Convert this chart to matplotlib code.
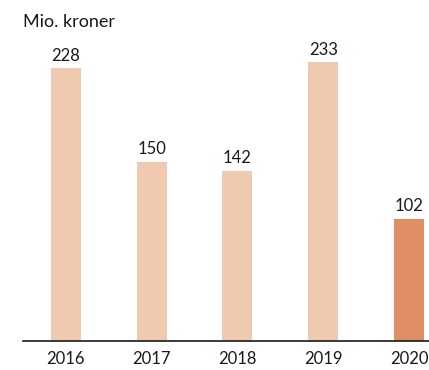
import matplotlib.pyplot as plt

years = ['2016', '2017', '2018', '2019', '2020']
values = [228, 150, 142, 233, 102]
colors = ['#EFC9B0', '#EFC9B0', '#EFC9B0', '#EFC9B0', '#E08E66']

plt.rcParams['font.family'] = ['Lato', 'DejaVu Sans']

fig = plt.figure(figsize=(4.29, 3.70), dpi=100)
ax = fig.add_axes([23 / 429, 29 / 370, 406 / 429, 299 / 370])

x = range(len(years))
bars = ax.bar(x, values, width=0.35, color=colors)
for b, v in zip(bars, values):
    ax.text(b.get_x() + b.get_width() / 2, v + 4, str(v),
            ha='center', va='bottom', fontsize=12, color='#1a1a1a')

ax.set_xlim(-0.5, 4.233)
ax.set_ylim(0, 250)
ax.set_xticks(list(x))
ax.set_xticklabels(years, fontsize=12, color='#1a1a1a')
ax.tick_params(axis='x', length=0, pad=7)
ax.set_yticks([])
for s in ['top', 'right', 'left']:
    ax.spines[s].set_visible(False)
ax.spines['bottom'].set_color('#1a1a1a')
ax.spines['bottom'].set_linewidth(1.2)

fig.text(23 / 429, 1 - 22 / 370, 'Mio. kroner', fontsize=13,
         va='center', ha='left', color='#1a1a1a')

fig.savefig('out.png', dpi=100)
